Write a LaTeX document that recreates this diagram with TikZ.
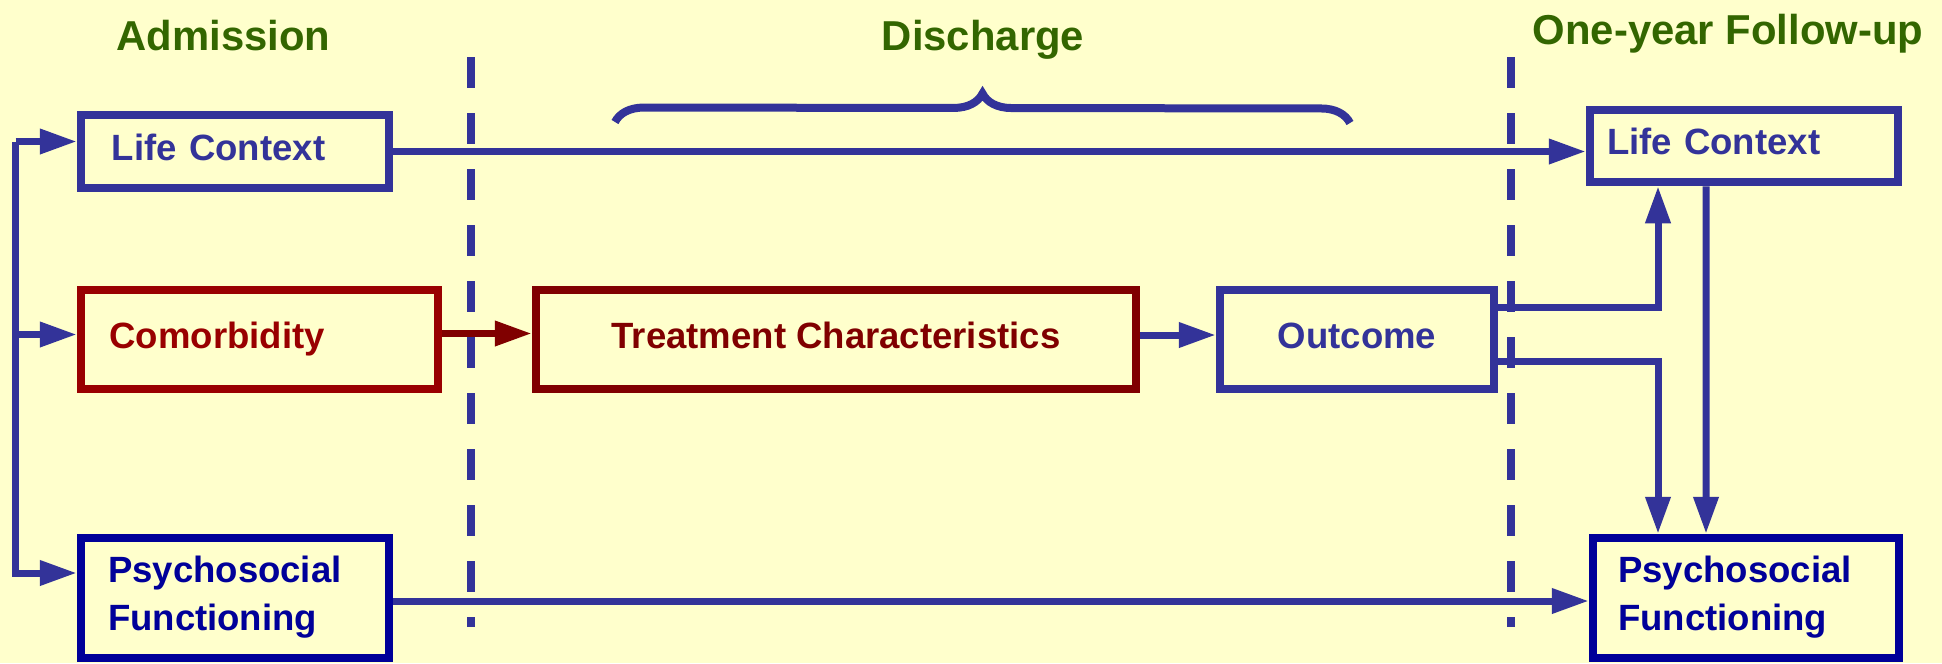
\documentclass[tikz,border=0pt]{standalone}
\usepackage{fontspec}
\setmainfont{Liberation Sans}
\usetikzlibrary{arrows.meta,decorations.pathreplacing}
\definecolor{paper}{HTML}{FFFFCC}
\definecolor{titlegreen}{HTML}{336600}
\definecolor{lcblue}{HTML}{333399}
\definecolor{navy}{HTML}{000099}
\definecolor{comred}{HTML}{990000}
\definecolor{treatred}{HTML}{800000}
\begin{document}
\begin{tikzpicture}[
      font=\bfseries\fontsize{10.4}{13.6}\selectfont,
      box/.style={draw, line width=0.085cm, inner sep=0pt, align=left,
                  text height=0.27cm, text depth=0.10cm},
      bluebox/.style={box, draw=lcblue, text=lcblue},
      navybox/.style={box, draw=navy, text=navy, text depth=0.58cm,
                      minimum height=1.20cm},
      redbox/.style={box, draw=#1, text=#1, minimum height=0.99cm},
      title/.style={anchor=base, text=titlegreen,
                    font=\bfseries\fontsize{11.9}{14}\selectfont},
      link/.style={line width=0.07cm, draw=#1,
                   -{Triangle[length=0.37cm, width=0.24cm]}},
      link/.default=lcblue,
      divider/.style={line width=0.08cm, draw=lcblue,
                      dash pattern=on 0.31cm off 0.25cm}]
      \useasboundingbox (0, 0) rectangle (19.42, 6.63);
      \fill[paper] (0, 0) rectangle (19.42, 6.63);
      \draw (2.235, 6.13) node (admit) [title] {Admission}
            (9.83, 6.13) node (disch) [title] {Discharge}
            (17.28, 6.19) node (follow) [title] {One-year Follow-up};
      \draw (2.35, 5.115) node (lifeA) [bluebox, minimum width=3.08cm,
                  minimum height=0.73cm, text width=2.46cm] {Life Context}
            (2.595, 3.235) node (comorb) [redbox=comred, minimum width=3.57cm,
                  text width=3.00cm] {Comorbidity}
            (2.35, 0.65) node (psychA) [navybox, minimum width=3.08cm,
                  text width=2.54cm] {Psychosocial\\Functioning}
            (8.36, 3.235) node (treat) [redbox=treatred, minimum width=6.00cm]
                  {Treatment Characteristics}
            (13.57, 3.235) node (outcome) [bluebox, minimum width=2.74cm,
                  minimum height=0.99cm] {Outcome}
            (17.44, 5.17) node (lifeB) [bluebox, minimum width=3.08cm,
                  minimum height=0.72cm, text width=2.74cm] {Life Context}
            (17.46, 0.65) node (psychB) [navybox, minimum width=3.06cm,
                  text width=2.56cm] {Psychosocial\\Functioning};
      \coordinate (trunk) at (0.156, 5.215);
      \draw[link] (trunk) -- (trunk -| lifeA.west);
      \draw[link] ([yshift=0.05cm]comorb.west -| trunk) -- ([yshift=0.05cm]comorb.west);
      \draw[link] (trunk) |- ([yshift=0.25cm]psychA.west);
      \draw[link=treatred] ([yshift=0.06cm]comorb.east) -- ([yshift=0.06cm]treat.west);
      \draw[link] ([yshift=0.045cm]treat.east) -- ([yshift=0.045cm]outcome.west);
      \draw[link] (lifeA.east) -- (lifeA.east -| lifeB.west);
      \draw[link] ([yshift=-0.03cm]psychA.east) -- ([yshift=-0.03cm]psychA.east -| psychB.west);
      \draw[link] ([yshift=0.325cm]outcome.east) -| ([xshift=-0.86cm]lifeB.south);
      \draw[link] ([yshift=-0.215cm]outcome.east) -| ([xshift=-0.88cm]psychB.north);
      \draw[link] ([xshift=-0.38cm]lifeB.south) -- ([xshift=-0.40cm]psychB.north);
      \draw[line width=0.08cm, draw=lcblue, decorate,
            decoration={brace, amplitude=0.29cm}] (6.15, 5.41) -- (13.50, 5.40);
      \draw[divider] (4.71, 6.06) -- (4.71, 0.36)
                     (15.11, 6.06) -- (15.11, 0.36);
\end{tikzpicture}
\end{document}
